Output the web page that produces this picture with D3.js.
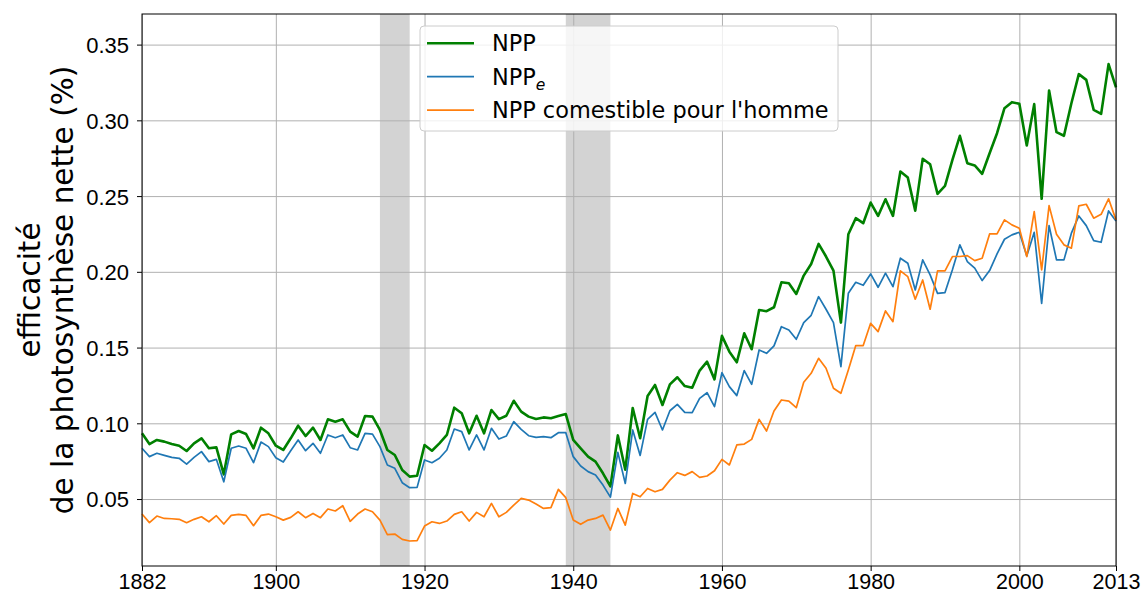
<!DOCTYPE html>
<html>
<head>
<meta charset="utf-8">
<script src="https://cdn.jsdelivr.net/npm/d3@7"></script>
<style>
  body { margin: 0; background: #fff; }
  svg { font-family: "DejaVu Sans", sans-serif; }
  .grid line { stroke: #b0b0b0; stroke-width: 1; }
  .grid path { display: none; }
  .axis text { font-size: 22px; fill: #000; }
  .axis path { display: none; }
  .axis line { stroke: #000; stroke-width: 1; }
</style>
</head>
<body>
<div id="chart"></div>
<script>
// years 1882..2013
var firstYear = 1882, lastYear = 2013;
var years = d3.range(firstYear, lastYear + 1);

// NPP (green)
var npp = [
  0.0934, 0.0863, 0.0890, 0.0879, 0.0863, 0.0852, 0.0817, 0.0868,                 // 1882-1889
  0.0901, 0.0835, 0.0841, 0.0663, 0.0927, 0.0949, 0.0929, 0.0835, 0.0971, 0.0934, // 1890s
  0.0852, 0.0824, 0.0901, 0.0984, 0.0916, 0.0971, 0.0890, 0.1026, 0.1011, 0.1026, // 1900s
  0.0945, 0.0912, 0.1048, 0.1044, 0.0956, 0.0824, 0.0791, 0.0692, 0.0648, 0.0654, // 1910s
  0.0857, 0.0819, 0.0868, 0.0923, 0.1103, 0.1066, 0.0934, 0.1050, 0.0934, 0.1088, // 1920s
  0.1028, 0.1050, 0.1149, 0.1077, 0.1044, 0.1028, 0.1039, 0.1033, 0.1048, 0.1061, // 1930s
  0.0890, 0.0835, 0.0780, 0.0747, 0.0670, 0.0584, 0.0920, 0.0694, 0.1101, 0.0901, // 1940s
  0.1180, 0.1253, 0.1121, 0.1257, 0.1304, 0.1246, 0.1235, 0.1348, 0.1407, 0.1290, // 1950s
  0.1577, 0.1473, 0.1403, 0.1594, 0.1489, 0.1748, 0.1740, 0.1766, 0.1931, 0.1924, // 1960s
  0.1854, 0.1975, 0.2052, 0.2184, 0.2101, 0.2008, 0.1665, 0.2248, 0.2354, 0.2321, // 1970s
  0.2457, 0.2369, 0.2479, 0.2369, 0.2662, 0.2622, 0.2404, 0.2746, 0.2710, 0.2515, // 1980s
  0.2567, 0.2739, 0.2898, 0.2717, 0.2702, 0.2647, 0.2783, 0.2915, 0.3080, 0.3120, // 1990s
  0.3109, 0.2834, 0.3107, 0.2482, 0.3197, 0.2922, 0.2898, 0.3113, 0.3305, 0.3267, // 2000s
  0.3069, 0.3043, 0.3371, 0.3217                                                  // 2010-2013
];

// NPP_e (blue)
var nppE = [
  0.0835, 0.0780, 0.0802, 0.0788, 0.0775, 0.0769, 0.0731, 0.0775,
  0.0813, 0.0747, 0.0762, 0.0614, 0.0835, 0.0850, 0.0835, 0.0740, 0.0876, 0.0846,
  0.0773, 0.0744, 0.0819, 0.0890, 0.0819, 0.0868, 0.0802, 0.0923, 0.0905, 0.0923,
  0.0839, 0.0824, 0.0934, 0.0929, 0.0846, 0.0725, 0.0703, 0.0608, 0.0575, 0.0577,
  0.0758, 0.0740, 0.0769, 0.0824, 0.0962, 0.0945, 0.0824, 0.0923, 0.0824, 0.0967,
  0.0896, 0.0916, 0.1011, 0.0960, 0.0918, 0.0907, 0.0912, 0.0905, 0.0938, 0.0938,
  0.0780, 0.0718, 0.0681, 0.0659, 0.0592, 0.0513, 0.0808, 0.0603, 0.0956, 0.0788,
  0.1026, 0.1072, 0.0956, 0.1083, 0.1125, 0.1072, 0.1070, 0.1165, 0.1202, 0.1110,
  0.1334, 0.1242, 0.1183, 0.1348, 0.1257, 0.1484, 0.1462, 0.1511, 0.1638, 0.1616,
  0.1555, 0.1665, 0.1713, 0.1836, 0.1753, 0.1665, 0.1374, 0.1858, 0.1931, 0.1911,
  0.1986, 0.1898, 0.1991, 0.1902, 0.2090, 0.2057, 0.1880, 0.2079, 0.1980, 0.1858,
  0.1863, 0.2013, 0.2178, 0.2068, 0.2024, 0.1942, 0.2008, 0.2118, 0.2215, 0.2244,
  0.2261, 0.2105, 0.2261, 0.1792, 0.2305, 0.2079, 0.2079, 0.2255, 0.2369, 0.2305,
  0.2206, 0.2195, 0.2402, 0.2336
];

// NPP comestible pour l'homme (orange)
var nppFood = [
  0.0401, 0.0344, 0.0388, 0.0372, 0.0370, 0.0366, 0.0344, 0.0366,
  0.0383, 0.0350, 0.0390, 0.0335, 0.0392, 0.0399, 0.0392, 0.0324, 0.0392, 0.0401,
  0.0383, 0.0361, 0.0379, 0.0416, 0.0377, 0.0405, 0.0377, 0.0434, 0.0421, 0.0456,
  0.0353, 0.0401, 0.0434, 0.0416, 0.0361, 0.0265, 0.0269, 0.0234, 0.0223, 0.0225,
  0.0322, 0.0350, 0.0339, 0.0355, 0.0399, 0.0416, 0.0355, 0.0412, 0.0383, 0.0471,
  0.0383, 0.0412, 0.0460, 0.0504, 0.0493, 0.0467, 0.0438, 0.0443, 0.0564, 0.0509,
  0.0361, 0.0333, 0.0361, 0.0372, 0.0394, 0.0295, 0.0438, 0.0328, 0.0537, 0.0515,
  0.0570, 0.0548, 0.0564, 0.0625, 0.0674, 0.0656, 0.0681, 0.0643, 0.0652, 0.0687,
  0.0762, 0.0725, 0.0857, 0.0863, 0.0894, 0.1026, 0.0949, 0.1081, 0.1154, 0.1147,
  0.1103, 0.1271, 0.1330, 0.1429, 0.1363, 0.1231, 0.1198, 0.1352, 0.1513, 0.1513,
  0.1660, 0.1605, 0.1742, 0.1671, 0.2006, 0.1968, 0.1819, 0.1946, 0.1753, 0.2006,
  0.2006, 0.2101, 0.2101, 0.2107, 0.2074, 0.2090, 0.2250, 0.2250, 0.2343, 0.2310,
  0.2288, 0.2101, 0.2398, 0.2013, 0.2437, 0.2248, 0.2178, 0.2156, 0.2435, 0.2446,
  0.2354, 0.2380, 0.2482, 0.2343
];

// war periods shaded in grey
var warSpans = [[1914, 1918], [1939, 1945]];

var xTicks = [1882, 1900, 1920, 1940, 1960, 1980, 2000, 2013];
var yTicks = [0.05, 0.10, 0.15, 0.20, 0.25, 0.30, 0.35];

var seriesList = [
  { name: "NPP", values: npp, color: "green", width: 2.6 },
  { name: "NPPe", values: nppE, color: "#1f77b4", width: 1.7 },
  { name: "NPP comestible pour l'homme", values: nppFood, color: "#ff7f0e", width: 1.7 }
];

// Chart setup
var totalWidth = 1146, totalHeight = 595;
var margin = { top: 14, right: 30, bottom: 29, left: 142 },
    width = totalWidth - margin.left - margin.right,
    height = totalHeight - margin.top - margin.bottom;

var svg = d3.select("#chart").append("svg")
    .attr("width", totalWidth)
    .attr("height", totalHeight);

var g = svg.append("g")
    .attr("transform", "translate(" + margin.left + "," + margin.top + ")");

var x = d3.scaleLinear().domain([firstYear, lastYear]).range([0, width]);
var y = d3.scaleLinear().domain([0.0058, 0.3702]).range([height, 0]);

// shaded spans
g.selectAll(".span")
    .data(warSpans)
  .enter().append("rect")
    .attr("class", "span")
    .attr("x", function(d) { return x(d[0]); })
    .attr("width", function(d) { return x(d[1]) - x(d[0]); })
    .attr("y", 0)
    .attr("height", height)
    .attr("fill", "#d3d3d3");

// grid
g.append("g")
    .attr("class", "grid")
    .attr("transform", "translate(0," + height + ")")
    .call(d3.axisBottom(x).tickValues(xTicks).tickSize(-height).tickFormat(""));

g.append("g")
    .attr("class", "grid")
    .call(d3.axisLeft(y).tickValues(yTicks).tickSize(-width).tickFormat(""));

// lines
var line = d3.line()
    .x(function(d, i) { return x(years[i]); })
    .y(function(d) { return y(d); });

g.selectAll(".series")
    .data(seriesList)
  .enter().append("path")
    .attr("class", "series")
    .attr("d", function(d) { return line(d.values); })
    .attr("fill", "none")
    .attr("stroke", function(d) { return d.color; })
    .attr("stroke-width", function(d) { return d.width; })
    .attr("stroke-linejoin", "round");

// frame
g.append("rect")
    .attr("width", width)
    .attr("height", height)
    .attr("fill", "none")
    .attr("stroke", "#000")
    .attr("stroke-width", 1);

// axes
var xAxis = g.append("g")
    .attr("class", "axis")
    .attr("transform", "translate(0," + height + ")")
    .call(d3.axisBottom(x).tickValues(xTicks).tickFormat(d3.format("d")).tickSize(5).tickPadding(3));
xAxis.selectAll("text").style("font-size", "21.5px");

var yAxis = g.append("g")
    .attr("class", "axis")
    .call(d3.axisLeft(y).tickValues(yTicks).tickFormat(d3.format(".2f")).tickSize(5).tickPadding(8));
yAxis.selectAll("text").attr("dy", "0.36em");

// y label (two lines)
var yLabel = svg.append("text")
    .attr("transform", "translate(0," + (margin.top + height / 2) + ") rotate(-90)")
    .attr("text-anchor", "middle")
    .style("font-size", "29.5px");
yLabel.append("tspan").attr("x", 0).attr("y", 40).text("efficacité");
yLabel.append("tspan").attr("x", 0).attr("y", 73).text("de la photosynthèse nette (%)");

// legend
var legend = svg.append("g").attr("transform", "translate(420,26)");
legend.append("rect")
    .attr("width", 418)
    .attr("height", 105)
    .attr("rx", 4)
    .attr("fill", "#fff")
    .attr("fill-opacity", 0.8)
    .attr("stroke", "#cccccc")
    .attr("stroke-width", 1);

var legendItems = legend.selectAll(".item")
    .data(seriesList)
  .enter().append("g")
    .attr("class", "item")
    .attr("transform", function(d, i) { return "translate(0," + (17.3 + i * 33.4) + ")"; });

legendItems.append("line")
    .attr("x1", 7).attr("x2", 54)
    .attr("stroke", function(d) { return d.color; })
    .attr("stroke-width", function(d) { return d.width; });

legendItems.append("text")
    .attr("x", 72)
    .attr("dy", "0.36em")
    .style("font-size", "22.4px")
    .each(function(d) {
      var t = d3.select(this);
      if (d.name === "NPPe") {
        t.append("tspan").text("NPP");
        t.append("tspan").attr("dy", 5).style("font-size", "15.5px").style("font-style", "italic").text("e");
      } else {
        t.text(d.name);
      }
    });
</script>
</body>
</html>
